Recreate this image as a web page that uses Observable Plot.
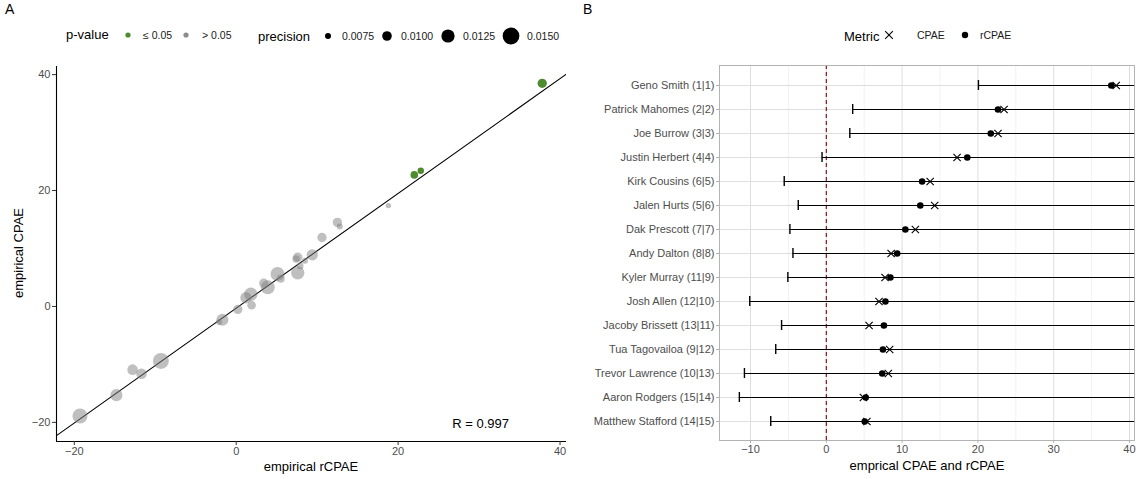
<!DOCTYPE html>
<html><head><meta charset="utf-8">
<script src="https://cdn.jsdelivr.net/npm/d3@7"></script>
<script src="https://cdn.jsdelivr.net/npm/@observablehq/plot@0.6"></script>
<style>
body{margin:0;background:#fff;font-family:"Liberation Sans",Arial,sans-serif;}
#root{position:relative;width:1141px;height:479px;overflow:hidden;background:#fff;}
#root > svg{position:absolute;top:0;}
.abs{position:absolute;white-space:nowrap;line-height:1;}
.ttl{font-size:13px;color:#000;}
.lab{font-size:10.5px;color:#1a1a1a;}
</style></head><body><div id="root"></div>
<script>
// ---------- Panel A: empirical rCPAE vs empirical CPAE ----------
const rcpaeA = [37.8, 22.0, 22.8, 18.8, 12.5, 12.8, 10.6, 7.6, 7.4, 8.5, 7.9, 9.4, 7.6, 5.1, 5.5, 3.4, 3.9, 1.8, 1.2, 1.9, 0.2, -1.7, -2.1, -9.3, -12.8, -11.7, -14.8, -19.3];
const cpaeA  = [38.5, 22.7, 23.4, 17.4, 14.5, 13.8, 11.9, 8.5, 8.2, 7.9, 7.0, 8.9, 5.8, 5.6, 4.8, 4.0, 3.3, 2.1, 1.5, 0.2, -0.5, -2.3, -2.7, -9.4, -10.9, -11.6, -15.3, -18.9];
const precisionA = [0.0098, 0.0086, 0.0078, 0.0071, 0.0098, 0.0075, 0.0098, 0.0098, 0.0085, 0.0075, 0.0080, 0.0112, 0.0126, 0.0130, 0.0089, 0.0098, 0.0130, 0.0126, 0.0112, 0.0093, 0.0098, 0.0117, 0.0075, 0.0144, 0.0107, 0.0107, 0.0117, 0.0138];
const significantA = [true, true, true, false, false, false, false, false, false, false, false, false, false, false, false, false, false, false, false, false, false, false, false, false, false, false, false, false];
const ticksA = [-20, 0, 20, 40];
const fitX = [-22.2, 40.8];
const fitIntercept = -0.3;
const fitSlope = 0.99;
const rLabel = {x: 30.2, y: -20.2, text: "R = 0.997"};
const precisionLegend = [0.0075, 0.0100, 0.0125, 0.0150];
const pvalueLegend = ["≤ 0.05", "> 0.05"];

// ---------- Panel B: per-player estimates ----------
const players = ["Geno Smith (1|1)", "Patrick Mahomes (2|2)", "Joe Burrow (3|3)", "Justin Herbert (4|4)", "Kirk Cousins (6|5)", "Jalen Hurts (5|6)", "Dak Prescott (7|7)", "Andy Dalton (8|8)", "Kyler Murray (11|9)", "Josh Allen (12|10)", "Jacoby Brissett (13|11)", "Tua Tagovailoa (9|12)", "Trevor Lawrence (10|13)", "Aaron Rodgers (15|14)", "Matthew Stafford (14|15)"];
const cpaeB  = [38.25, 23.45, 22.65, 17.25, 13.7, 14.3, 11.75, 8.55, 7.75, 6.95, 5.64, 8.36, 8.18, 4.89, 5.36];
const rcpaeB = [37.6, 22.65, 21.7, 18.6, 12.64, 12.4, 10.43, 9.35, 8.46, 7.8, 7.6, 7.47, 7.38, 5.2, 5.07];
const lowerB = [20.07, 3.48, 3.1, -0.56, -5.55, -3.7, -4.8, -4.4, -5.07, -10.1, -5.9, -6.67, -10.8, -11.47, -7.33];
const upperB = [55.1, 45.0, 44.0, 45.0, 42.0, 43.0, 42.0, 43.0, 42.0, 45.0, 42.0, 42.0, 45.0, 46.0, 42.0];
const ticksB = [-10, 0, 10, 20, 30, 40];
const minorTicksB = [-5, 5, 15, 25, 35];
const metricLegend = ["CPAE", "rCPAE"];

const FONT = '"Liberation Sans", Arial, sans-serif';
const root = document.getElementById("root");

// ----- Plot A -----
const ptsA = rcpaeA.map((x, i) => ({x, y: cpaeA[i], p: precisionA[i], sig: significantA[i]}));
const fitLine = fitX.map(x => ({x, y: fitIntercept + fitSlope * x}));
const xDomA = [-22.2, 40.8], yDomA = [-23.3, 41.4];
const plotA = Plot.plot({
  width: 580, height: 479,
  marginLeft: 56, marginRight: 14, marginTop: 66, marginBottom: 38,
  x: {domain: xDomA},
  y: {domain: yDomA},
  r: {type: "linear", domain: [0.0075, 0.015], range: [3, 8.4]},
  style: {fontFamily: FONT, fontSize: "11px", background: "white", overflow: "visible"},
  marks: [
    Plot.line(fitLine, {x: "x", y: "y", stroke: "black", strokeWidth: 1.1, clip: true}),
    Plot.dot(ptsA.filter(d => !d.sig), {x: "x", y: "y", r: "p", fill: "#7f7f7f", fillOpacity: 0.5, stroke: null}),
    Plot.dot(ptsA.filter(d => d.sig), {x: "x", y: "y", r: "p", fill: "#4e8a2e", stroke: null}),
    Plot.text([rLabel], {x: "x", y: "y", text: "text", fontSize: 13, fill: "black"}),
    Plot.ruleX([xDomA[0]], {stroke: "black", strokeWidth: 1.1}),
    Plot.ruleY([yDomA[0]], {stroke: "black", strokeWidth: 1.1}),
    Plot.axisX(ticksA, {tickSize: 4, tickPadding: 2, label: null, stroke: "#333", fill: "#4d4d4d", fontSize: 11}),
    Plot.axisY(ticksA, {tickSize: 4, tickPadding: 2, label: null, stroke: "#333", fill: "#4d4d4d", fontSize: 11})
  ]
});
plotA.style.left = "0px";
root.appendChild(plotA);

// ----- Plot B -----
const rowsB = players.map((name, i) => ({name, cpae: cpaeB[i], rcpae: rcpaeB[i], lo: lowerB[i], hi: upperB[i]}));
const plotB = Plot.plot({
  width: 561, height: 479,
  marginLeft: 139, marginRight: 7, marginTop: 65, marginBottom: 39,
  x: {domain: [-14.09, 40.66]},
  y: {type: "band", domain: players, paddingInner: 0.6, paddingOuter: 0.395, align: 0.5},
  style: {fontFamily: FONT, fontSize: "11px", background: "white"},
  marks: [
    Plot.ruleX(minorTicksB, {stroke: "#ebebeb", strokeWidth: 0.7}),
    Plot.ruleX(ticksB, {stroke: "#dedede", strokeWidth: 1}),
    Plot.ruleY(players, {y: d => d, stroke: "#dedede", strokeWidth: 1}),
    Plot.ruleX([0], {stroke: "#8b0000", strokeWidth: 1.1, strokeDasharray: "4,3"}),
    Plot.ruleY(rowsB, {y: "name", x1: "lo", x2: "hi", stroke: "black", strokeWidth: 1.1, clip: true}),
    Plot.tickX(rowsB, {y: "name", x: "lo", stroke: "black", strokeWidth: 1.4}),
    Plot.dot(rowsB, {y: "name", x: "cpae", symbol: "times", r: 3.4, stroke: "black", strokeWidth: 1.1}),
    Plot.dot(rowsB, {y: "name", x: "rcpae", r: 3.3, fill: "black", stroke: null}),
    Plot.frame({stroke: "#b3b3b3", strokeWidth: 1}),
    Plot.axisX(ticksB, {tickSize: 3, tickPadding: 2, label: null, stroke: "#b3b3b3", fill: "#4d4d4d", fontSize: 11}),
    Plot.axisY({tickSize: 3, tickPadding: 2, label: null, stroke: "#b3b3b3", fill: "#4d4d4d", fontSize: 11})
  ]
});
plotB.style.left = "580px";
root.appendChild(plotB);

// ----- HTML text & legends -----
function addText(txt, left, top, cls, extra) {
  const d = document.createElement("div");
  d.className = "abs " + cls;
  d.textContent = txt;
  d.style.left = left + "px";
  d.style.top = top + "px";
  if (extra) Object.assign(d.style, extra);
  root.appendChild(d);
  return d;
}
addText("A", 5, 2, "", {fontSize: "14px"});
addText("B", 583, 2, "", {fontSize: "14px"});
addText("empirical rCPAE", 311, 460, "ttl", {transform: "translateX(-50%)"});
addText("empirical CPAE", 12, 253, "ttl", {transform: "translate(-50%,-50%) rotate(-90deg)", left: "18px"});
addText("emprical CPAE and rCPAE", 927, 459, "ttl", {transform: "translateX(-50%)"});

// legend svg overlay
const rScale = plotA.scale("r");
const svg = d3.select(root).append("svg")
  .attr("width", 1141).attr("height", 60)
  .style("position", "absolute").style("left", "0px").style("top", "0px");
// p-value legend
addText("p-value", 66, 28, "ttl");
const pvalColors = ["#4e8a2e", "#8c8c8c"];
const pvalKeyX = [128, 186];
const pvalLabX = [143, 202];
pvalueLegend.forEach((lab, i) => {
  svg.append("circle").attr("cx", pvalKeyX[i]).attr("cy", 35).attr("r", 2.6).attr("fill", pvalColors[i]);
  addText(lab, pvalLabX[i], 29.5, "lab");
});
// precision legend
addText("precision", 258, 30, "ttl");
const precKeyX = [328, 387, 448, 511];
const precLabX = [342, 401, 463, 527];
precisionLegend.forEach((v, i) => {
  svg.append("circle").attr("cx", precKeyX[i]).attr("cy", 36).attr("r", rScale.apply(v)).attr("fill", "black");
  addText(v.toFixed(4), precLabX[i], 30.5, "lab");
});
// metric legend
addText("Metric", 844, 29.5, "ttl");
const metricKeyX = [889, 965];
const metricLabX = [917, 980];
metricLegend.forEach((lab, i) => {
  if (i === 0) {
    svg.append("path").attr("d", d3.symbol(d3.symbolTimes, 40)()).attr("transform", `translate(${metricKeyX[i]},35)`)
      .attr("stroke", "black").attr("stroke-width", 1.1).attr("fill", "none");
  } else {
    svg.append("circle").attr("cx", metricKeyX[i]).attr("cy", 35).attr("r", 3.2).attr("fill", "black");
  }
  addText(lab, metricLabX[i], 30, "lab");
});
</script></body></html>
